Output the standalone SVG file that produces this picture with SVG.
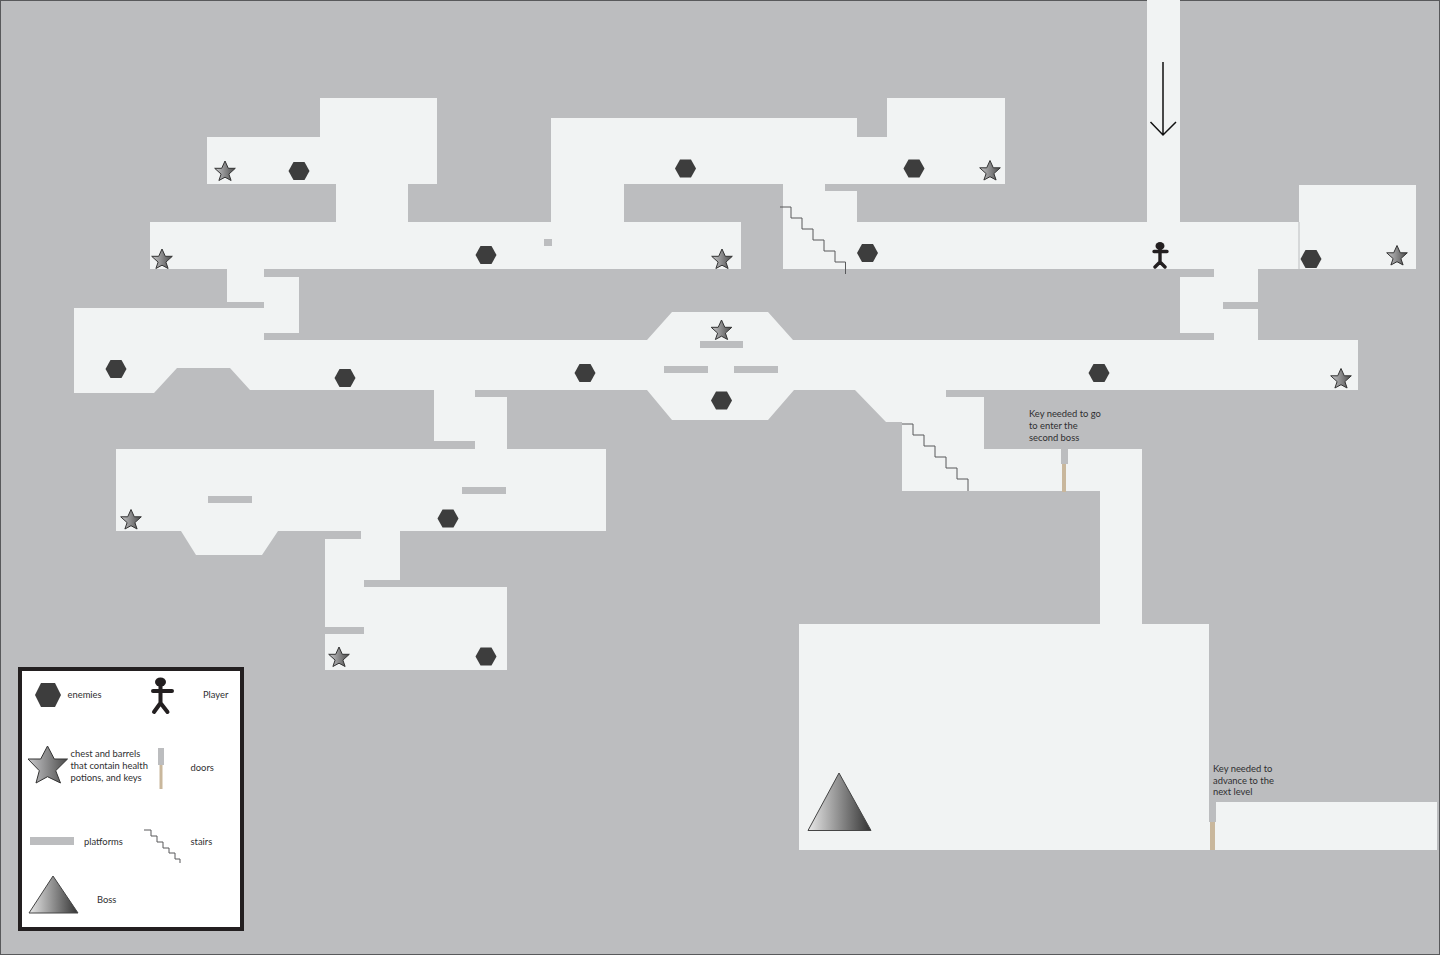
<svg xmlns="http://www.w3.org/2000/svg" width="1440" height="955" viewBox="0 0 1440 955">
<style>
.bg{fill:#bcbdbf}
.floor{fill:#f1f3f3}
.plat{fill:#bcbdbf}
.stairs{fill:none;stroke:#58595b;stroke-width:1}
.enemy{fill:#3d3d3d}
.star{fill:url(#g);stroke:#333;stroke-width:1}
.boss{fill:url(#g2);stroke:#444;stroke-width:1}
.stick{fill:none;stroke:#231f20;stroke-linecap:round;stroke-linejoin:round}
.door{fill:#bcbdbf}
.tan{fill:#c9b79c}
text{font-family:Lato,"Open Sans",sans-serif;font-size:9.4px;fill:#2f2f31}
</style>
<defs>
<linearGradient id="g" x1="0" x2="1" y1="0" y2="0"><stop offset="0" stop-color="#c8c8ca"/><stop offset="1" stop-color="#4a4a4a"/></linearGradient>
<linearGradient id="g2" x1="0" x2="1" y1="0" y2="0"><stop offset="0" stop-color="#e8e8e8"/><stop offset="1" stop-color="#333"/></linearGradient>
<polygon id="hex" points="-10.5,0 -5.5,-9 5.5,-9 10.5,0 5.5,9 -5.5,9"/>
<polygon id="st" points="0,-10.500 3.300,-3.200 10.300,-3.200 3.900,2.600 6.100,9 0,5.700 -6.100,9 -3.900,2.600 -10.300,-3.200 -3.300,-3.200"/>
<g id="man"><ellipse cx="0" cy="-10" rx="4.500" ry="4" fill="#231f20"/><path class="stick" stroke-width="3.400" d="M-6-4.500H7M0-8V6M0 6-5 11M0 6 5 11"/></g>
</defs>
<rect class="bg" x="0.500" y="0.500" width="1439" height="954" stroke="#58595b" stroke-width="1"/>
<g id="floor">
<path id="room-top-left" class="floor" d="M207 137H320V98H437V184H408V222H336V184H207Z"/>
<path id="room-row-2" class="floor" d="M150 222H741V269H150Z"/>
<path id="room-top-center" class="floor" d="M551 118H857V137H887V98H1005V184H825V191H857V222H1147V0H1180V222H1299V185H1416V269H783V184H624V222H551Z"/>
<path id="link-left" class="floor" d="M227 269H264V277H299V333H264V340H264V308H227Z"/>
<path id="link-right" class="floor" d="M1180 277H1214V269H1258V340H1180Z"/>
<path id="main-hall" class="floor" d="M74 308H264V340H647L672 312H768L793 340H1358V390H946V397H984V449H1142V624H1209V822H1216V802H1437V850H799V624H1100V491H902V422H886L855 390H794L768 420H672L647 390H507V449H606V531H400V587H507V670H325V539H361V531H278L262 555H196L181 531H116V449H434V390H250L230 368H177L154 393H74Z"/>
<rect class="plat" x="434" y="441" width="41" height="8"/>
<rect class="plat" x="475" y="390" width="32" height="7"/>
<rect class="plat" x="227" y="302" width="37" height="6"/>
<rect class="plat" x="264" y="269" width="35" height="8"/>
<rect class="plat" x="264" y="333" width="35" height="7"/>
<rect class="plat" x="1180" y="333" width="34" height="7"/>
<rect class="plat" x="1120" y="269" width="93" height="8"/>
<rect class="plat" x="1223" y="302" width="35" height="7"/>
<rect class="plat" x="700" y="341" width="43" height="7"/>
<rect class="plat" x="664" y="366" width="44" height="7"/>
<rect class="plat" x="734" y="366" width="44" height="7"/>
<rect class="plat" x="208" y="496" width="44" height="7"/>
<rect class="plat" x="462" y="487" width="44" height="7"/>
<rect class="plat" x="364" y="580" width="36" height="7"/>
<rect class="plat" x="325" y="627" width="39" height="7"/>
<rect class="plat" x="544" y="239" width="8" height="7"/>
<rect class="plat" x="1298.500" y="222" width="1" height="47"/>
</g>
<g id="connectors">
<path id="arrow" d="M1163 62V135M1150.500 122L1163 135L1176 122" fill="none" stroke="#111" stroke-width="1.500"/>
</g>
<path id="stairs-1" class="stairs" d="M780 207H791V218H802V229H813V240H824V251H835V262H845.500V274"/>
<path id="stairs-2" class="stairs" d="M902 424H913V435H924V446H935V457H946V468H957V479H968V491"/>
<g id="door-1"><rect class="door" x="1061" y="449" width="7" height="15"/><rect class="tan" x="1062" y="464" width="4" height="28"/></g>
<g id="door-2"><rect class="door" x="1209" y="802" width="7" height="20"/><rect class="tan" x="1210" y="822" width="5" height="28"/></g>
<g id="enemies" class="enemy">
<use href="#hex" x="299" y="171"/><use href="#hex" x="685.500" y="168.500"/><use href="#hex" x="914" y="168.500"/><use href="#hex" x="486" y="255"/><use href="#hex" x="867.500" y="253"/><use href="#hex" x="1311" y="259"/><use href="#hex" x="116" y="369"/><use href="#hex" x="345" y="378"/><use href="#hex" x="585" y="373"/><use href="#hex" x="721.500" y="400.500"/><use href="#hex" x="1099" y="373"/><use href="#hex" x="448" y="518.500"/><use href="#hex" x="486" y="656.500"/>
</g>
<g id="chests" class="star">
<use href="#st" x="225" y="171.500"/><use href="#st" x="990" y="171"/><use href="#st" x="162" y="259.500"/><use href="#st" x="722" y="259.500"/><use href="#st" x="1397" y="256"/><use href="#st" x="721.500" y="330.500"/><use href="#st" x="1341" y="379"/><use href="#st" x="131" y="520"/><use href="#st" x="339" y="657.500"/>
</g>
<use id="player" href="#man" x="1160" y="256"/>
<polygon id="boss" class="boss" points="839,773 871,830.500 808,830.500"/>
<text x="1029" y="417">Key needed to go</text>
<text x="1029" y="429">to enter the</text>
<text x="1029" y="441">second boss</text>
<text x="1213" y="772">Key needed to</text>
<text x="1213" y="784">advance to the</text>
<text x="1213" y="795">next level</text>
<g id="legend">
<rect x="20" y="669" width="222" height="260" fill="#fff" stroke="#231f20" stroke-width="4"/>
<polygon class="enemy" points="35,695 41,683 55,683 61,695 55,707 41,707"/>
<text x="67.500" y="698">enemies</text>
<ellipse cx="160.500" cy="682" rx="5.500" ry="4.500" fill="#231f20"/>
<path class="stick" stroke-width="4" d="M153 691H172M160.500 685V703L154 712M160.500 703 167.500 712"/>
<text x="203" y="698">Player</text>
<polygon class="star" style="fill:url(#g)" points="47.500,746 54.300,759 67.500,759 55.700,770.700 60.500,783 47.500,776.700 36,783 39.300,770.700 28,759 40.700,759"/>
<text x="70.500" y="757">chest and barrels</text>
<text x="70.500" y="769">that contain health</text>
<text x="70.500" y="781">potions, and keys</text>
<rect class="door" x="158" y="748" width="6" height="17"/><rect class="tan" x="159.500" y="765" width="3" height="24"/>
<text x="190.500" y="771">doors</text>
<rect class="plat" x="30" y="837" width="44" height="8"/>
<text x="84" y="845">platforms</text>
<path class="stairs" d="M144 830H151V836H157V842H163V848H169V853H175V859H180V863"/>
<text x="190.500" y="845">stairs</text>
<polygon class="boss" points="53,876 78,913 29,913"/>
<text x="97" y="903">Boss</text>
</g>
</svg>
